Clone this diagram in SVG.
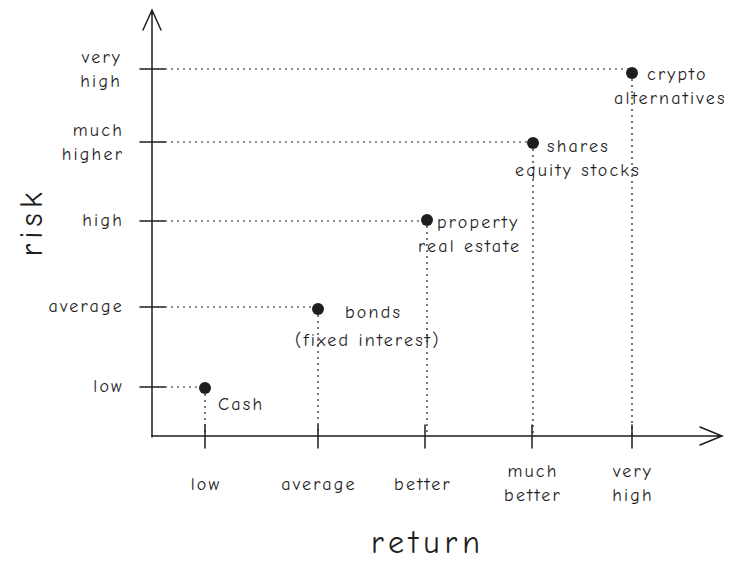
<svg xmlns="http://www.w3.org/2000/svg" width="749" height="573" viewBox="0 0 749 573">
<style>
text{font-family:"Comic Neue","Liberation Sans",sans-serif;font-size:18px;letter-spacing:2.2px;fill:#1e1e1e}
.ax{stroke:#1e1e1e;stroke-width:1.5;fill:none;stroke-linecap:round}
.dot{stroke:#1e1e1e;stroke-width:1.2;stroke-dasharray:2 4;fill:none}
.r{text-anchor:end}.m{text-anchor:middle}
.big{font-size:32px;letter-spacing:5px}
</style>
<rect width="749" height="573" fill="#fff"/>
<g id="connectors">
<path class="ax" d="M152 437 L152 10 M143 30 L152 10 L161 30"/>
<path class="ax" d="M152 436 L722 436 M700 427 L722 436 L700 445"/>
<path class="ax" d="M140 69 H165 M140 142 H165 M140 221 H165 M140 307 H165 M140 387 H165"/>
<path class="ax" d="M205 425 V448 M318 425 V448 M425 425 V448 M532 425 V448 M632 425 V448"/>
<path class="dot" d="M165 387 H205 M165 307 H318 M165 221 H427 M165 142 H533 M165 69 H632"/>
<path class="dot" d="M205 388 V436 M318 309 V436 M427 220 V436 M533 143 V436 M632 73 V436"/>
</g>
<g id="points" fill="#1e1e1e">
<circle cx="205" cy="388" r="6"/><circle cx="318" cy="309" r="6"/><circle cx="427" cy="220" r="6"/><circle cx="533" cy="143" r="6"/><circle cx="632" cy="73" r="6"/>
</g>
<g id="ylabels">
<text class="r" x="122" y="63">very</text><text class="r" x="122" y="87">high</text>
<text class="r" x="124" y="136">much</text><text class="r" x="124" y="160">higher</text>
<text class="r" x="124" y="226">high</text>
<text class="r" x="124" y="312">average</text>
<text class="r" x="124" y="392">low</text>
</g>
<g id="xlabels">
<text class="m" x="206" y="490">low</text>
<text class="m" x="319" y="490">average</text>
<text class="m" x="423" y="490">better</text>
<text class="m" x="533" y="477">much</text><text class="m" x="533" y="501">better</text>
<text class="m" x="633" y="477">very</text><text class="m" x="633" y="501">high</text>
</g>
<g id="titles">
<text class="m big" x="428" y="553">return</text>
<text class="m big" transform="translate(42 222) rotate(-90)">risk</text>
</g>
<g id="pointlabels">
<text x="218" y="410">Cash</text>
<text x="345" y="318">bonds</text><text x="295" y="346">(fixed interest)</text>
<text x="437" y="228">property</text><text x="418" y="252">real estate</text>
<text x="547" y="152">shares</text><text x="515" y="176">equity stocks</text>
<text x="647" y="80">crypto</text><text x="614" y="104">alternatives</text>
</g>
</svg>
